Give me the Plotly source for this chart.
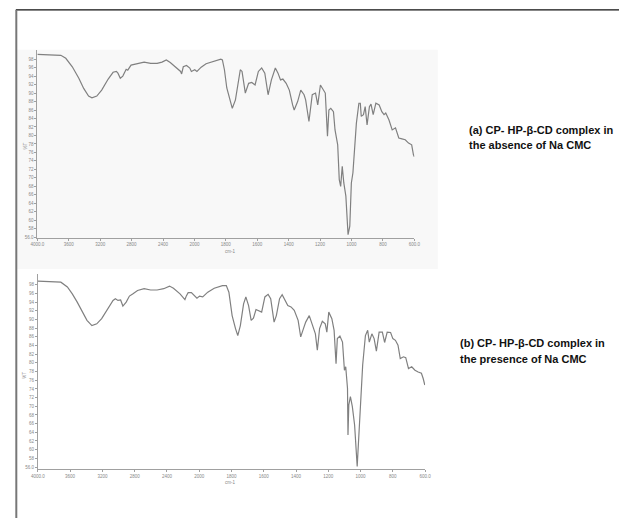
import numpy as np
import plotly.graph_objects as go

# Split-scale wavenumber axis (cm-1): ticks sit at equal spacing on the chart
wn_ticks = [4000, 3600, 3200, 2800, 2400, 2000, 1800, 1600, 1400, 1200, 1000, 800, 600]
wn_tick_labels = ["4000.0", "3600", "3200", "2800", "2400", "2000", "1800",
                  "1600", "1400", "1200", "1000", "800", "600.0"]

# %T ticks
t_ticks = [98, 96, 94, 92, 90, 88, 86, 84, 82, 80, 78, 76, 74, 72, 70, 68, 66, 64, 62, 60, 58, 56]
t_tick_labels = ["98", "96", "94", "92", "90", "88", "86", "84", "82", "80", "78", "76",
                 "74", "72", "70", "68", "66", "64", "62", "60", "58", "56.0"]

# (a) CP - HP-beta-CD complex without Na CMC
wn_a = [4000, 3701, 3638, 3555, 3472, 3410, 3348, 3305, 3243, 3181, 3098, 3036, 2994, 2974,
        2944, 2912, 2869, 2849, 2807, 2724, 2641, 2557, 2475, 2413, 2358, 2308, 2226, 2176,
        2163, 2142, 2101, 2059, 2039, 1998, 1984, 1957, 1926, 1884, 1832, 1822, 1809, 1794,
        1778, 1759, 1739, 1708, 1697, 1676, 1655, 1635, 1614, 1593, 1572, 1552, 1531, 1510,
        1485, 1468, 1452, 1437, 1416, 1396, 1375, 1365, 1343, 1323, 1302, 1292, 1271, 1250,
        1229, 1215, 1198, 1181, 1167, 1153, 1144, 1132, 1115, 1105, 1094, 1088, 1078, 1069,
        1059, 1049, 1036, 1022, 1011, 1001, 991, 969, 953, 944, 938, 924, 913, 901, 886, 876,
        862, 845, 824, 807, 793, 782, 762, 741, 720, 699, 679, 658, 637, 617, 606, 600]
t_a = [99.1, 98.9, 98.2, 96.2, 93.5, 91.1, 89.3, 88.9, 89.3, 90.7, 93.3, 94.9, 95.1, 94.7,
       93.5, 94.0, 95.6, 95.4, 96.6, 97.0, 97.3, 97.0, 97.0, 97.3, 97.8, 97.2, 95.9, 95.1,
       94.5, 96.2, 96.5, 95.9, 95.1, 95.5, 95.1, 96.1, 96.9, 97.4, 98.0, 97.8, 95.5, 91.2,
       89.1, 86.4, 88.4, 95.5, 95.1, 90.0, 92.3, 92.5, 91.9, 95.1, 95.9, 94.7, 89.6, 93.1,
       95.9, 94.7, 93.1, 93.3, 92.3, 90.7, 87.2, 86.0, 88.0, 90.7, 89.6, 88.4, 83.3, 89.6,
       90.0, 87.2, 91.9, 90.7, 90.0, 79.8, 86.0, 86.4, 85.6, 81.3, 79.0, 77.8, 69.6, 68.0,
       72.7, 68.8, 65.7, 56.6, 58.6, 68.8, 71.2, 82.9, 87.6, 87.6, 84.5, 84.9, 86.8, 82.5,
       86.8, 87.4, 84.9, 87.6, 87.2, 85.6, 84.9, 85.3, 83.7, 81.3, 81.8, 79.4, 79.2, 79.0,
       78.2, 77.8, 75.5, 75.0]

# (b) CP - HP-beta-CD complex with Na CMC
wn_b = [4000, 3715, 3634, 3573, 3512, 3451, 3391, 3330, 3270, 3209, 3129, 3068, 3039, 3007,
        2974, 2946, 2905, 2865, 2825, 2764, 2683, 2602, 2522, 2440, 2368, 2319, 2238, 2177,
        2158, 2137, 2097, 2056, 2028, 1998, 1978, 1947, 1907, 1856, 1832, 1816, 1796, 1775,
        1761, 1745, 1725, 1711, 1694, 1678, 1664, 1648, 1633, 1613, 1593, 1573, 1557, 1536,
        1522, 1502, 1486, 1468, 1451, 1431, 1411, 1387, 1371, 1354, 1340, 1318, 1300, 1280,
        1268, 1254, 1237, 1219, 1209, 1197, 1178, 1164, 1152, 1144, 1128, 1112, 1100, 1092,
        1081, 1078, 1073, 1063, 1051, 1037, 1021, 1011, 1002, 987, 970, 956, 946, 930, 916,
        902, 885, 865, 851, 835, 814, 800, 784, 768, 754, 734, 720, 703, 683, 663, 643, 623,
        612, 602]
t_b = [98.85, 98.6, 97.5, 95.9, 94.0, 91.7, 89.8, 88.6, 89.0, 90.2, 92.5, 94.4, 94.8, 94.4,
       94.5, 93.1, 94.0, 95.4, 95.9, 96.7, 97.1, 96.8, 96.8, 97.1, 97.7, 97.2, 95.9, 94.6,
       95.5, 96.2, 96.2, 95.4, 94.9, 95.4, 95.2, 96.3, 97.2, 97.8, 97.8, 96.3, 90.9, 87.9,
       86.3, 88.6, 93.6, 95.2, 93.2, 89.8, 90.3, 92.3, 92.1, 91.7, 95.2, 95.8, 94.8, 89.4,
       90.9, 94.8, 95.7, 94.4, 93.2, 92.9, 92.1, 89.8, 86.0, 87.9, 89.4, 90.9, 89.0, 86.7,
       82.9, 87.9, 89.6, 89.0, 87.1, 91.7, 90.2, 87.5, 79.8, 85.6, 86.2, 84.8, 78.3, 79.1,
       74.1, 63.4, 70.3, 72.2, 69.9, 65.7, 56.1, 62.6, 68.7, 79.5, 86.3, 87.5, 84.8, 86.7,
       85.6, 82.7, 87.1, 87.1, 84.7, 87.1, 87.0, 85.6, 85.2, 84.1, 81.0, 81.4, 81.2, 78.7,
       79.1, 78.3, 77.9, 77.6, 76.4, 74.9]

W, H = 625, 520
tick_pos = np.arange(len(wn_ticks))
neg_ticks = -np.array(wn_ticks, dtype=float)


def to_axis(wn):
    """Place wavenumbers on the equally spaced split-scale axis."""
    return np.interp(-np.asarray(wn, dtype=float), neg_ticks, tick_pos)


def px_x(v):
    return v / W


def px_y(v):
    return 1 - v / H


curve_color = "#808080"
axis_color = "#a0a0a0"
tick_font = dict(family="Liberation Sans, Arial, sans-serif", size=4.5, color="#888888")

fig = go.Figure()
fig.add_trace(go.Scatter(x=to_axis(wn_a), y=t_a, mode="lines",
                         line=dict(color=curve_color, width=1.2),
                         xaxis="x", yaxis="y", showlegend=False, hoverinfo="skip"))
fig.add_trace(go.Scatter(x=to_axis(wn_b), y=t_b, mode="lines",
                         line=dict(color=curve_color, width=1.2),
                         xaxis="x2", yaxis="y2", showlegend=False, hoverinfo="skip"))

xaxis_common = dict(range=[0, len(wn_ticks) - 1], tickmode="array", tickvals=tick_pos,
                    ticktext=wn_tick_labels, showgrid=False, zeroline=False, showline=True,
                    linecolor=axis_color, linewidth=1, ticks="outside", ticklen=2,
                    tickcolor=axis_color, tickwidth=1, tickfont=tick_font, fixedrange=True)
yaxis_common = dict(tickmode="array", tickvals=t_ticks, ticktext=t_tick_labels,
                    showgrid=False, zeroline=False, showline=True, linecolor=axis_color,
                    linewidth=1, ticks="outside", ticklen=2, tickcolor=axis_color,
                    tickwidth=1, tickfont=tick_font, fixedrange=True)

fig.update_layout(
    width=W, height=H,
    margin=dict(l=0, r=0, t=0, b=0),
    paper_bgcolor="white",
    plot_bgcolor="rgba(0,0,0,0)",
    xaxis=dict(xaxis_common, domain=[px_x(31), px_x(416)], anchor="y"),
    yaxis=dict(yaxis_common, domain=[px_y(239), px_y(50)], range=[55.8, 100.2], anchor="x"),
    xaxis2=dict(xaxis_common, domain=[px_x(31.5), px_x(427)], anchor="y2"),
    yaxis2=dict(yaxis_common, domain=[px_y(471), px_y(275)], range=[55.5, 100.5], anchor="x2"),
)

shapes = [
    # light panel behind spectrum (a)
    dict(type="rect", xref="paper", yref="paper", x0=px_x(10), x1=px_x(440),
         y0=px_y(270), y1=px_y(50), fillcolor="#f8f8f8", line=dict(width=0), layer="below"),
    # outer frame
    dict(type="line", xref="paper", yref="paper", x0=px_x(9), x1=1, y0=px_y(10), y1=px_y(10),
         line=dict(color="#111111", width=1.2)),
    dict(type="line", xref="paper", yref="paper", x0=px_x(9.5), x1=px_x(9.5), y0=0, y1=px_y(10),
         line=dict(color="#777777", width=2)),
]
fig.update_layout(shapes=shapes)

small = dict(family="Liberation Sans, Arial, sans-serif", size=4.5, color="#888888")
label_font = dict(family="Liberation Sans, Arial, sans-serif", size=11, color="#111111")
annotations = [
    dict(text="%T", x=px_x(18.5), y=px_y(147), textangle=-90, font=small),
    dict(text="cm-1", x=px_x(228), y=px_y(252), font=small),
    dict(text="%T", x=px_x(17.5), y=px_y(377), textangle=-90, font=small),
    dict(text="cm-1", x=px_x(228), y=px_y(484), font=small),
    dict(text="<b>(a) CP- HP-β-CD complex in</b>", x=px_x(470), y=px_y(131),
         xanchor="left", font=label_font),
    dict(text="<b>the absence of Na CMC</b>", x=px_x(470), y=px_y(146),
         xanchor="left", font=label_font),
    dict(text="<b>(b) CP- HP-β-CD complex in</b>", x=px_x(460.5), y=px_y(344),
         xanchor="left", font=label_font),
    dict(text="<b>the presence of Na CMC</b>", x=px_x(460.5), y=px_y(360),
         xanchor="left", font=label_font),
]
for a in annotations:
    a.setdefault("xref", "paper")
    a.setdefault("yref", "paper")
    a.setdefault("showarrow", False)
    a.setdefault("yanchor", "middle")
    a.setdefault("xanchor", "center")
fig.update_layout(annotations=annotations)

fig.write_html("out.html")
